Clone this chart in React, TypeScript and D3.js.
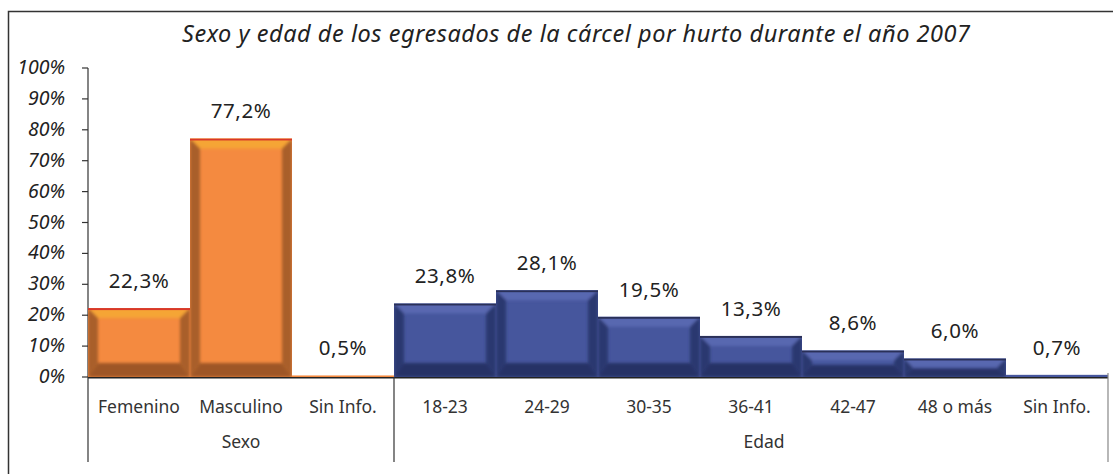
import React from "react";
import * as d3 from "d3";

// Data
const sexoCategories = ["Femenino", "Masculino", "Sin Info."];
const sexoValues = [22.3, 77.2, 0.5];
const edadCategories = ["18-23", "24-29", "30-35", "36-41", "42-47", "48 o más", "Sin Info."];
const edadValues = [23.8, 28.1, 19.5, 13.3, 8.6, 6.0, 0.7];
const groupLabels = ["Sexo", "Edad"];
const yTicks = [0, 10, 20, 30, 40, 50, 60, 70, 80, 90, 100];

const W = 1113;
const H = 474;
const margin = { left: 88, right: 5, top: 68, bottom: 97 };
const FONT = "'Noto Sans', 'DejaVu Sans', sans-serif";

const palettes = {
    orange: { main: "#F48A40", top: "#F5A535", topLine: "#D8372A", side: "#A95F2A", bottom: "#9E5726" },
    blue: { main: "#46569D", top: "#5868B0", topLine: "#2A3058", side: "#2B3770", bottom: "#283366" },
};

type Bar = { key: string; label: string; value: number; group: number };

const bars: Bar[] = [
    ...sexoCategories.map((c, i) => ({ key: `s${i}`, label: c, value: sexoValues[i], group: 0 })),
    ...edadCategories.map((c, i) => ({ key: `e${i}`, label: c, value: edadValues[i], group: 1 })),
];

const fmt = (v: number) => v.toFixed(1).replace(".", ",") + "%";

export default function App() {
    const x = d3
        .scaleBand<string>()
        .domain(bars.map((b) => b.key))
        .range([margin.left, W - margin.right])
        .padding(0);
    const y = d3.scaleLinear().domain([0, 100]).range([H - margin.bottom, margin.top]);
    const y0 = y(0);
    const bw = x.bandwidth();

    const groupEdges = [
        x(bars[0].key)!,
        x(bars[sexoCategories.length].key)!,
        x(bars[bars.length - 1].key)! + bw,
    ];

    const pts = (p: number[][]) => p.map((d) => d.join(",")).join(" ");

    return (
        <svg width={W} height={H} style={{ position: "absolute", left: 0, top: 0, background: "#fff" }}>
            <defs>
                <filter id="soft" x="-10%" y="-10%" width="120%" height="120%">
                    <feGaussianBlur stdDeviation="1.8" />
                </filter>
                {bars.map((b) => {
                    const x0 = x(b.key)!;
                    const yt = y(b.value);
                    return (
                        <clipPath id={`clip-${b.key}`} key={b.key}>
                            <rect x={x0} y={yt} width={bw} height={y0 - yt} />
                        </clipPath>
                    );
                })}
            </defs>

            {/* outer frame */}
            <rect x={8.5} y={11.5} width={W + 10} height={H + 10} fill="none" stroke="#333" strokeWidth={1.5} />

            {/* title */}
            <text
                x={576}
                y={42}
                textAnchor="middle"
                fontFamily={FONT}
                fontStyle="italic"
                fontSize={23.5}
                fill="#222"
                textLength={788}
                lengthAdjust="spacing"
            >
                Sexo y edad de los egresados de la cárcel por hurto durante el año 2007
            </text>

            {/* y axis */}
            <line x1={margin.left} x2={margin.left} y1={y(100)} y2={y0} stroke="#333" strokeWidth={1.2} />
            {yTicks.map((t) => (
                <g key={t}>
                    <line x1={margin.left - 6} x2={margin.left} y1={y(t)} y2={y(t)} stroke="#333" strokeWidth={1.2} />
                    <text x={65} y={y(t) + 6} textAnchor="end" fontFamily={FONT} fontStyle="italic" fontSize={19.5} fill="#222">
                        {t}%
                    </text>
                </g>
            ))}

            {/* x axis (drawn just under the bars) */}
            <line x1={margin.left} x2={groupEdges[2]} y1={y0 + 0.8} y2={y0 + 0.8} stroke="#222" strokeWidth={1.5} />

            {/* bars */}
            {bars.map((b) => {
                const pal = b.group === 0 ? palettes.orange : palettes.blue;
                const x0 = x(b.key)!;
                const x1 = x0 + bw;
                const yt = y(b.value);
                const h = y0 - yt;
                const bv = Math.min(10, h / 2.2, bw / 2);
                const bb = Math.min(14, h / 2.2);
                return (
                    <g key={b.key}>
                        <rect x={x0} y={yt} width={bw} height={h} fill={pal.main} />
                        {h > 6 && (
                            <g clipPath={`url(#clip-${b.key})`}>
                                <g filter="url(#soft)">
                                    <polygon points={pts([[x0, yt], [x1, yt], [x1 - bv, yt + bv], [x0 + bv, yt + bv]])} fill={pal.top} />
                                    <polygon points={pts([[x0, y0], [x1, y0], [x1 - bv, y0 - bb], [x0 + bv, y0 - bb]])} fill={pal.bottom} />
                                    <polygon points={pts([[x0, yt], [x0 + bv, yt + bv], [x0 + bv, y0 - bb], [x0, y0]])} fill={pal.side} />
                                    <polygon points={pts([[x1, yt], [x1 - bv, yt + bv], [x1 - bv, y0 - bb], [x1, y0]])} fill={pal.side} />
                                </g>
                                <rect x={x0} y={yt} width={bw} height={2} fill={pal.topLine} />
                            </g>
                        )}
                        <text
                            x={x0 + bw / 2}
                            y={yt - 20}
                            textAnchor="middle"
                            fontFamily={FONT}
                            fontSize={20.5}
                            letterSpacing={0.6}
                            fill="#222"
                        >
                            {fmt(b.value)}
                        </text>
                        <text x={x0 + bw / 2} y={413} textAnchor="middle" fontFamily={FONT} fontSize={17.5} fill="#333">
                            {b.label}
                        </text>
                    </g>
                );
            })}

            {/* category group separators */}
            {groupEdges.map((gx, i) => (
                <line
                    key={i}
                    x1={gx}
                    x2={gx}
                    y1={i === 2 ? y0 - 4 : y0}
                    y2={462}
                    stroke={i === 2 ? "#888" : "#333"}
                    strokeWidth={1.2}
                />
            ))}
            {groupLabels.map((g, i) => (
                <text
                    key={g}
                    x={(groupEdges[i] + groupEdges[i + 1]) / 2 + (i === 1 ? 13 : 0)}
                    y={448}
                    textAnchor="middle"
                    fontFamily={FONT}
                    fontSize={17.5}
                    fill="#333"
                >
                    {g}
                </text>
            ))}
        </svg>
    );
}
